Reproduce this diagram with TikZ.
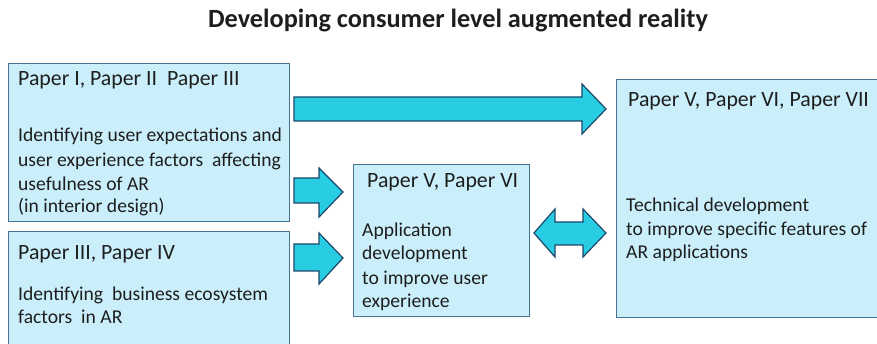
\documentclass[tikz,border=0pt]{standalone}
\usepackage{fontspec}
\setmainfont{Carlito}
\definecolor{boxfill}{RGB}{202,239,250}
\definecolor{boxline}{RGB}{70,115,145}
\definecolor{arrowfill}{RGB}{40,205,228}
\definecolor{arrowline}{RGB}{28,72,105}
\definecolor{ink}{RGB}{30,30,30}
\begin{document}
\begin{tikzpicture}[x=1pt,y=-1pt,
  panel/.style={draw=boxline, fill=boxfill, line width=1pt},
  blockarrow/.style={draw=arrowline, fill=arrowfill, line width=1.2pt, line join=miter},
  txt/.style={anchor=base west, inner sep=0pt, text=ink, font=\fontsize{19.6}{24}\selectfont, align=left},
  heading/.style={txt, font=\fontsize{21.8}{26}\selectfont}]
\useasboundingbox (0,0) rectangle (877,344);
\clip (0,0) rectangle (877,344);
\fill[white] (0,0) rectangle (877,344);

% title
\node[anchor=base, inner sep=0pt, text=ink, font=\fontsize{26.3}{30}\selectfont\bfseries] (title) at (458,28) {Developing consumer level augmented reality};

% panels
\draw[panel] (8,64) rectangle (289,222) coordinate (p1);
\draw[panel] (8,232) rectangle (289,360) coordinate (p2);
\draw[panel] (353,165) rectangle (529,316) coordinate (p3);
\draw[panel] (616,80) rectangle (890,317) coordinate (p4);

% panel texts
\node[heading] (h1) at (18,86) {Paper I, Paper II\ \ Paper III};
\node[txt] (t1a) at (18,142) {Identifying user expectations and};
\node[txt] (t1b) at (18,167) {user experience factors\ \ affecting};
\node[txt] (t1c) at (18,191) {usefulness of AR};
\node[txt] (t1d) at (18,213) {(in interior design)};

\node[heading] (h2) at (18,260) {Paper III, Paper IV};
\node[txt] (t2a) at (18,300) {Identifying\ \ business ecosystem};
\node[txt] (t2b) at (18,323) {factors\ \ in AR};

\node[heading] (h3) at (367,188) {Paper V, Paper VI};
\node[txt] (t3a) at (362,237) {Application};
\node[txt] (t3b) at (362,260) {development};
\node[txt] (t3c) at (362,284) {to improve user};
\node[txt] (t3d) at (362,307) {experience};

\node[heading] (h4) at (628,107) {Paper V, Paper VI, Paper VII};
\node[txt] (t4a) at (626,212) {Technical development};
\node[txt] (t4b) at (626,236) {to improve specific features of};
\node[txt] (t4c) at (626,259) {AR applications};

% long arrow to the technical panel
\draw[blockarrow] (294,97) -- (582,97) -- (582,84) -- (606,109) -- (582,134)
  -- (582,121) -- (294,121) -- cycle;
% arrows into the application panel
\draw[blockarrow] (294,178) -- (319,178) -- (319,168) -- (343,192) -- (319,217)
  -- (319,203) -- (294,203) -- cycle;
\draw[blockarrow] (294,244) -- (319,244) -- (319,233) -- (343,258) -- (319,284)
  -- (319,271) -- (294,271) -- cycle;
% two-way arrow between application and technical panels
\draw[blockarrow] (534,233) -- (555,209) -- (555,222) -- (583,222) -- (583,209)
  -- (606,233) -- (583,257) -- (583,245) -- (555,245) -- (555,257) -- cycle;
\end{tikzpicture}
\end{document}
